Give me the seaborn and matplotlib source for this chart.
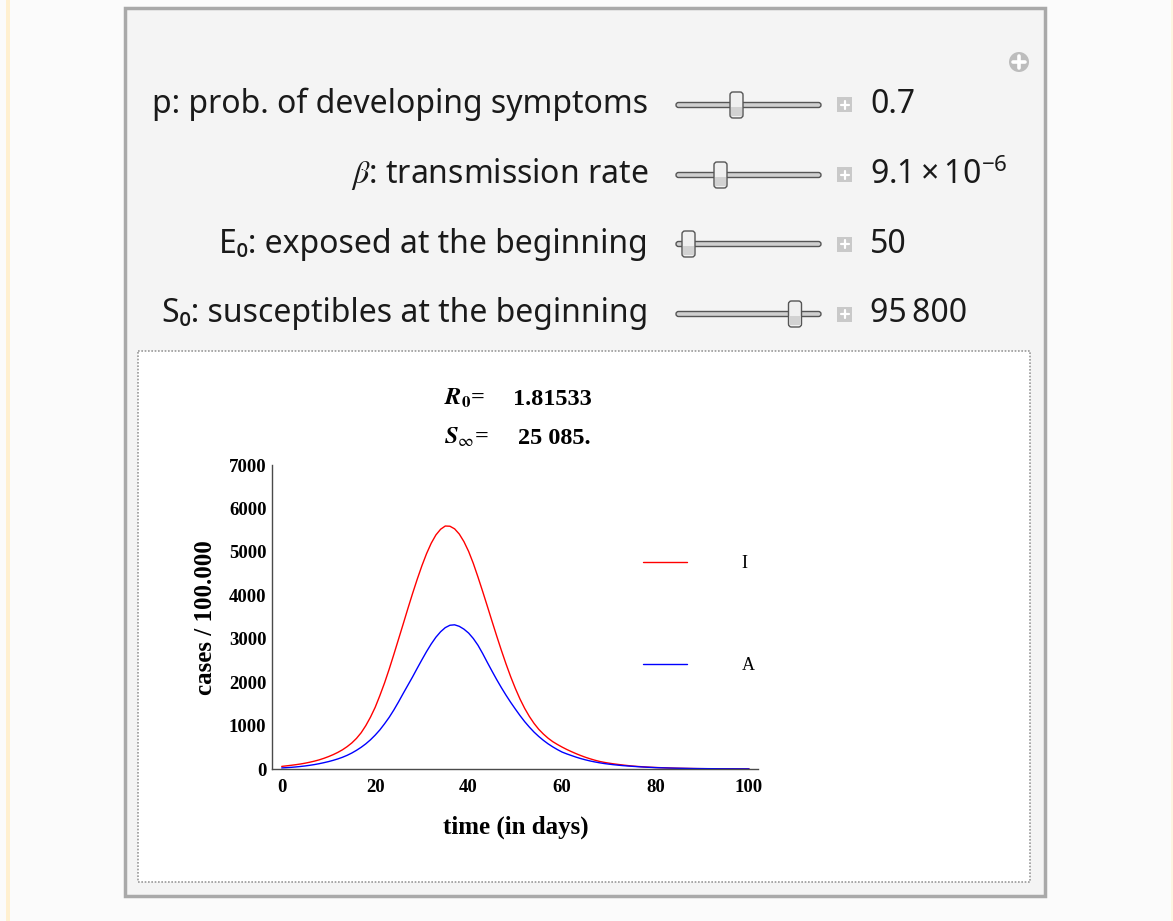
import matplotlib
matplotlib.use("Agg")
import matplotlib.pyplot as plt
import seaborn as sns
import pandas as pd
from matplotlib.patches import Rectangle, FancyBboxPatch, Circle
from matplotlib.lines import Line2D
from matplotlib.transforms import Affine2D
from matplotlib.ticker import MultipleLocator

# ---------------- data ----------------
days = list(range(0, 101))
cases_I = [60, 72, 85, 99, 115, 134, 156, 181, 210, 245,
           285, 330, 382, 442, 515, 600, 705, 835, 1000, 1195,
           1420, 1690, 1980, 2300, 2640, 2990, 3340, 3695, 4040, 4370,
           4680, 4960, 5200, 5390, 5520, 5595, 5590, 5530, 5410, 5235,
           5010, 4735, 4420, 4090, 3750, 3405, 3065, 2735, 2420, 2125,
           1855, 1610, 1395, 1210, 1050, 915, 805, 710, 630, 565,
           505, 450, 400, 353, 310, 270, 235, 203, 175, 153,
           135, 119, 105, 92, 80, 69, 60, 53, 46, 40,
           35, 31, 27, 23, 20, 17, 15, 13, 11, 9,
           8, 7, 6, 5.5, 5, 4.5, 4, 3.5, 3, 2.5, 2]
cases_A = [25, 31, 38, 47, 58, 70, 85, 102, 122, 145,
           170, 199, 232, 270, 315, 368, 430, 500, 580, 673,
           780, 900, 1040, 1190, 1360, 1545, 1740, 1930, 2120, 2320,
           2515, 2705, 2880, 3035, 3160, 3255, 3310, 3320, 3285, 3220,
           3130, 3005, 2850, 2660, 2455, 2255, 2060, 1875, 1700, 1535,
           1380, 1230, 1090, 965, 850, 750, 660, 580, 510, 447,
           390, 348, 310, 273, 240, 211, 185, 163, 143, 126,
           112, 99, 88, 78, 70, 62, 55, 48, 42, 37,
           32, 28, 25, 22, 19, 17, 15, 13, 11, 10,
           9, 8, 7, 6, 5, 4.5, 4, 3.5, 3, 2.5, 2]
series_names = ["I", "A"]
series_colors = {"I": "#ff0000", "A": "#0000ff"}
x_ticks = [0, 20, 40, 60, 80, 100]
y_ticks = [0, 1000, 2000, 3000, 4000, 5000, 6000, 7000]
x_label = "time (in days)"
y_label = "cases / 100.000"
control_labels = ["p: prob. of developing symptoms",
                  r"$\beta$: transmission rate",
                  "E\u2080: exposed at the beginning",
                  "S\u2080: susceptibles at the beginning"]
control_values = ["0.7",
                  "9.1\u2009\u00d7\u200910$^{\\mathregular{\u22126}}$",
                  "50",
                  "95\u2009800"]
r0_value = "1.81533"
s_inf_value = "25 085."

df = pd.DataFrame({
    "day": days * 2,
    "cases": cases_I + cases_A,
    "series": ["I"] * len(days) + ["A"] * len(days),
})

# ---------------- figure ----------------
sns.set_style("white")
plt.rcParams["mathtext.fontset"] = "stix"
plt.rcParams["text.color"] = "black"
W, H = 1173, 921
fig = plt.figure(figsize=(W / 100, H / 100), dpi=100, facecolor="#fbfbfb")
pix = Affine2D().scale(1 / W, -1 / H).translate(0, 1) + fig.transFigure

sans = ["Noto Sans", "DejaVu Sans"]
serif = ["Liberation Serif", "DejaVu Serif"]

def add(p):
    p.set_transform(pix)
    fig.add_artist(p)
    return p

# page decorations
add(Rectangle((6, 0), 4, H, fc="#fff0d0", ec="none", zorder=-20))
add(Rectangle((1171, 0), 2, H, fc="#fff6e0", ec="none", zorder=-20))
# panel
add(Rectangle((125, 8), 920, 888, fc="#f4f4f4", ec="#a9a9a9", lw=2.5, zorder=-15))
# inner plot frame
add(Rectangle((138, 351), 892, 531, fc="#ffffff", ec="#999999", lw=1.2,
              ls=(0, (1, 1)), zorder=-12))

# circle plus icon
add(Circle((1019, 62), 10, fc="#bdbdbd", ec="none", zorder=-10))
add(Line2D([1013, 1025], [62, 62], color="white", lw=2.6, zorder=-9))
add(Line2D([1019, 1019], [56, 68], color="white", lw=2.6, zorder=-9))

# controls
baselines = [113, 183, 253, 322]
track_y = [105, 175, 244, 314]
thumb_x = [736.5, 720.5, 688.5, 795.0]
for lab, val, yb, ty, tx in zip(control_labels, control_values, baselines, track_y, thumb_x):
    fig.text(648, yb, lab, transform=pix, ha="right", va="baseline",
             fontsize=23, family=sans, color="#1a1a1a")
    fig.text(870, yb, val, transform=pix, ha="left", va="baseline",
             fontsize=23, family=sans, color="#1a1a1a")
    add(FancyBboxPatch((676, ty - 2.5), 145, 5,
                       boxstyle="round,pad=0,rounding_size=2.5",
                       fc="#d0d0d0", ec="#555555", lw=1.0, zorder=-8))
    add(FancyBboxPatch((tx - 6.5, ty - 13), 13, 26,
                       boxstyle="round,pad=0,rounding_size=3",
                       fc="#f0f0f0", ec="#555555", lw=1.0, zorder=-7))
    add(Rectangle((tx - 5.5, ty + 2), 11, 9, fc="#d2d2d2", ec="none", zorder=-6))
    add(Rectangle((837, ty - 7.5), 15, 15, fc="#c9c9c9", ec="none", zorder=-8))
    add(Line2D([840.5, 848.5], [ty, ty], color="white", lw=1.6, zorder=-7))
    add(Line2D([844.5, 844.5], [ty - 4, ty + 4], color="white", lw=1.6, zorder=-7))

# titles
fig.text(444, 405, r"$\mathbfit{R}_{\mathbf{0}}$=", transform=pix, ha="left",
         va="baseline", fontsize=17.5, family=serif, weight="bold", color="black")
fig.text(513, 405, r0_value, transform=pix, ha="left", va="baseline",
         fontsize=17.5, family=serif, weight="bold", color="black")
fig.text(444, 444, r"$\mathbfit{S}_{\infty}$=", transform=pix, ha="left",
         va="baseline", fontsize=17.5, family=serif, weight="bold", color="black")
fig.text(518, 444, s_inf_value, transform=pix, ha="left", va="baseline",
         fontsize=17.5, family=serif, weight="bold", color="black")

# ---------------- axes ----------------
ax = fig.add_axes([272 / W, 1 - 769 / H, 486 / W, 304 / H])
ax.set_facecolor("none")
sns.lineplot(data=df, x="day", y="cases", hue="series", hue_order=series_names,
             palette=series_colors, linewidth=1.0, ax=ax, legend=False)
ax.set_xlim(-2.08, 101.93)
ax.set_ylim(0, 7000)
ax.set_xticks(x_ticks)
ax.set_yticks(y_ticks)
ax.xaxis.set_minor_locator(MultipleLocator(5))
ax.yaxis.set_minor_locator(MultipleLocator(200))
ax.set_xlabel("")
ax.set_ylabel("")
for s in ["top", "right"]:
    ax.spines[s].set_visible(False)
for s in ["left", "bottom"]:
    ax.spines[s].set_color("#4a4a4a")
    ax.spines[s].set_linewidth(1.0)
ax.tick_params(which="major", direction="in", length=4.5, width=0.8,
               color="#333333", labelsize=13.5, pad=7.5, labelcolor="black")
ax.tick_params(which="minor", direction="in", length=2.5, width=0.7, color="#333333")
ax.tick_params(axis="y", which="major", pad=4)
for t in ax.get_xticklabels() + ax.get_yticklabels():
    t.set_family(serif)
    t.set_fontweight("bold")

fig.text(206, 618, y_label, transform=pix, rotation=90, ha="center", va="center",
         fontsize=18, family=serif, weight="bold", color="black")
fig.text(516, 827, x_label, transform=pix, ha="center", va="center",
         fontsize=18, family=serif, weight="bold", color="black")

handles = [Line2D([], [], color=series_colors[n], lw=1.0) for n in series_names]
leg = ax.legend(handles, series_names, loc="upper left",
                bbox_to_anchor=(643, 555), bbox_transform=pix,
                frameon=False, borderpad=0, borderaxespad=0, handlelength=2.45,
                handletextpad=3.0, labelspacing=4.72,
                prop={"family": serif, "size": 13}, labelcolor="black")

fig.savefig("out.png", dpi=100, facecolor=fig.get_facecolor())
